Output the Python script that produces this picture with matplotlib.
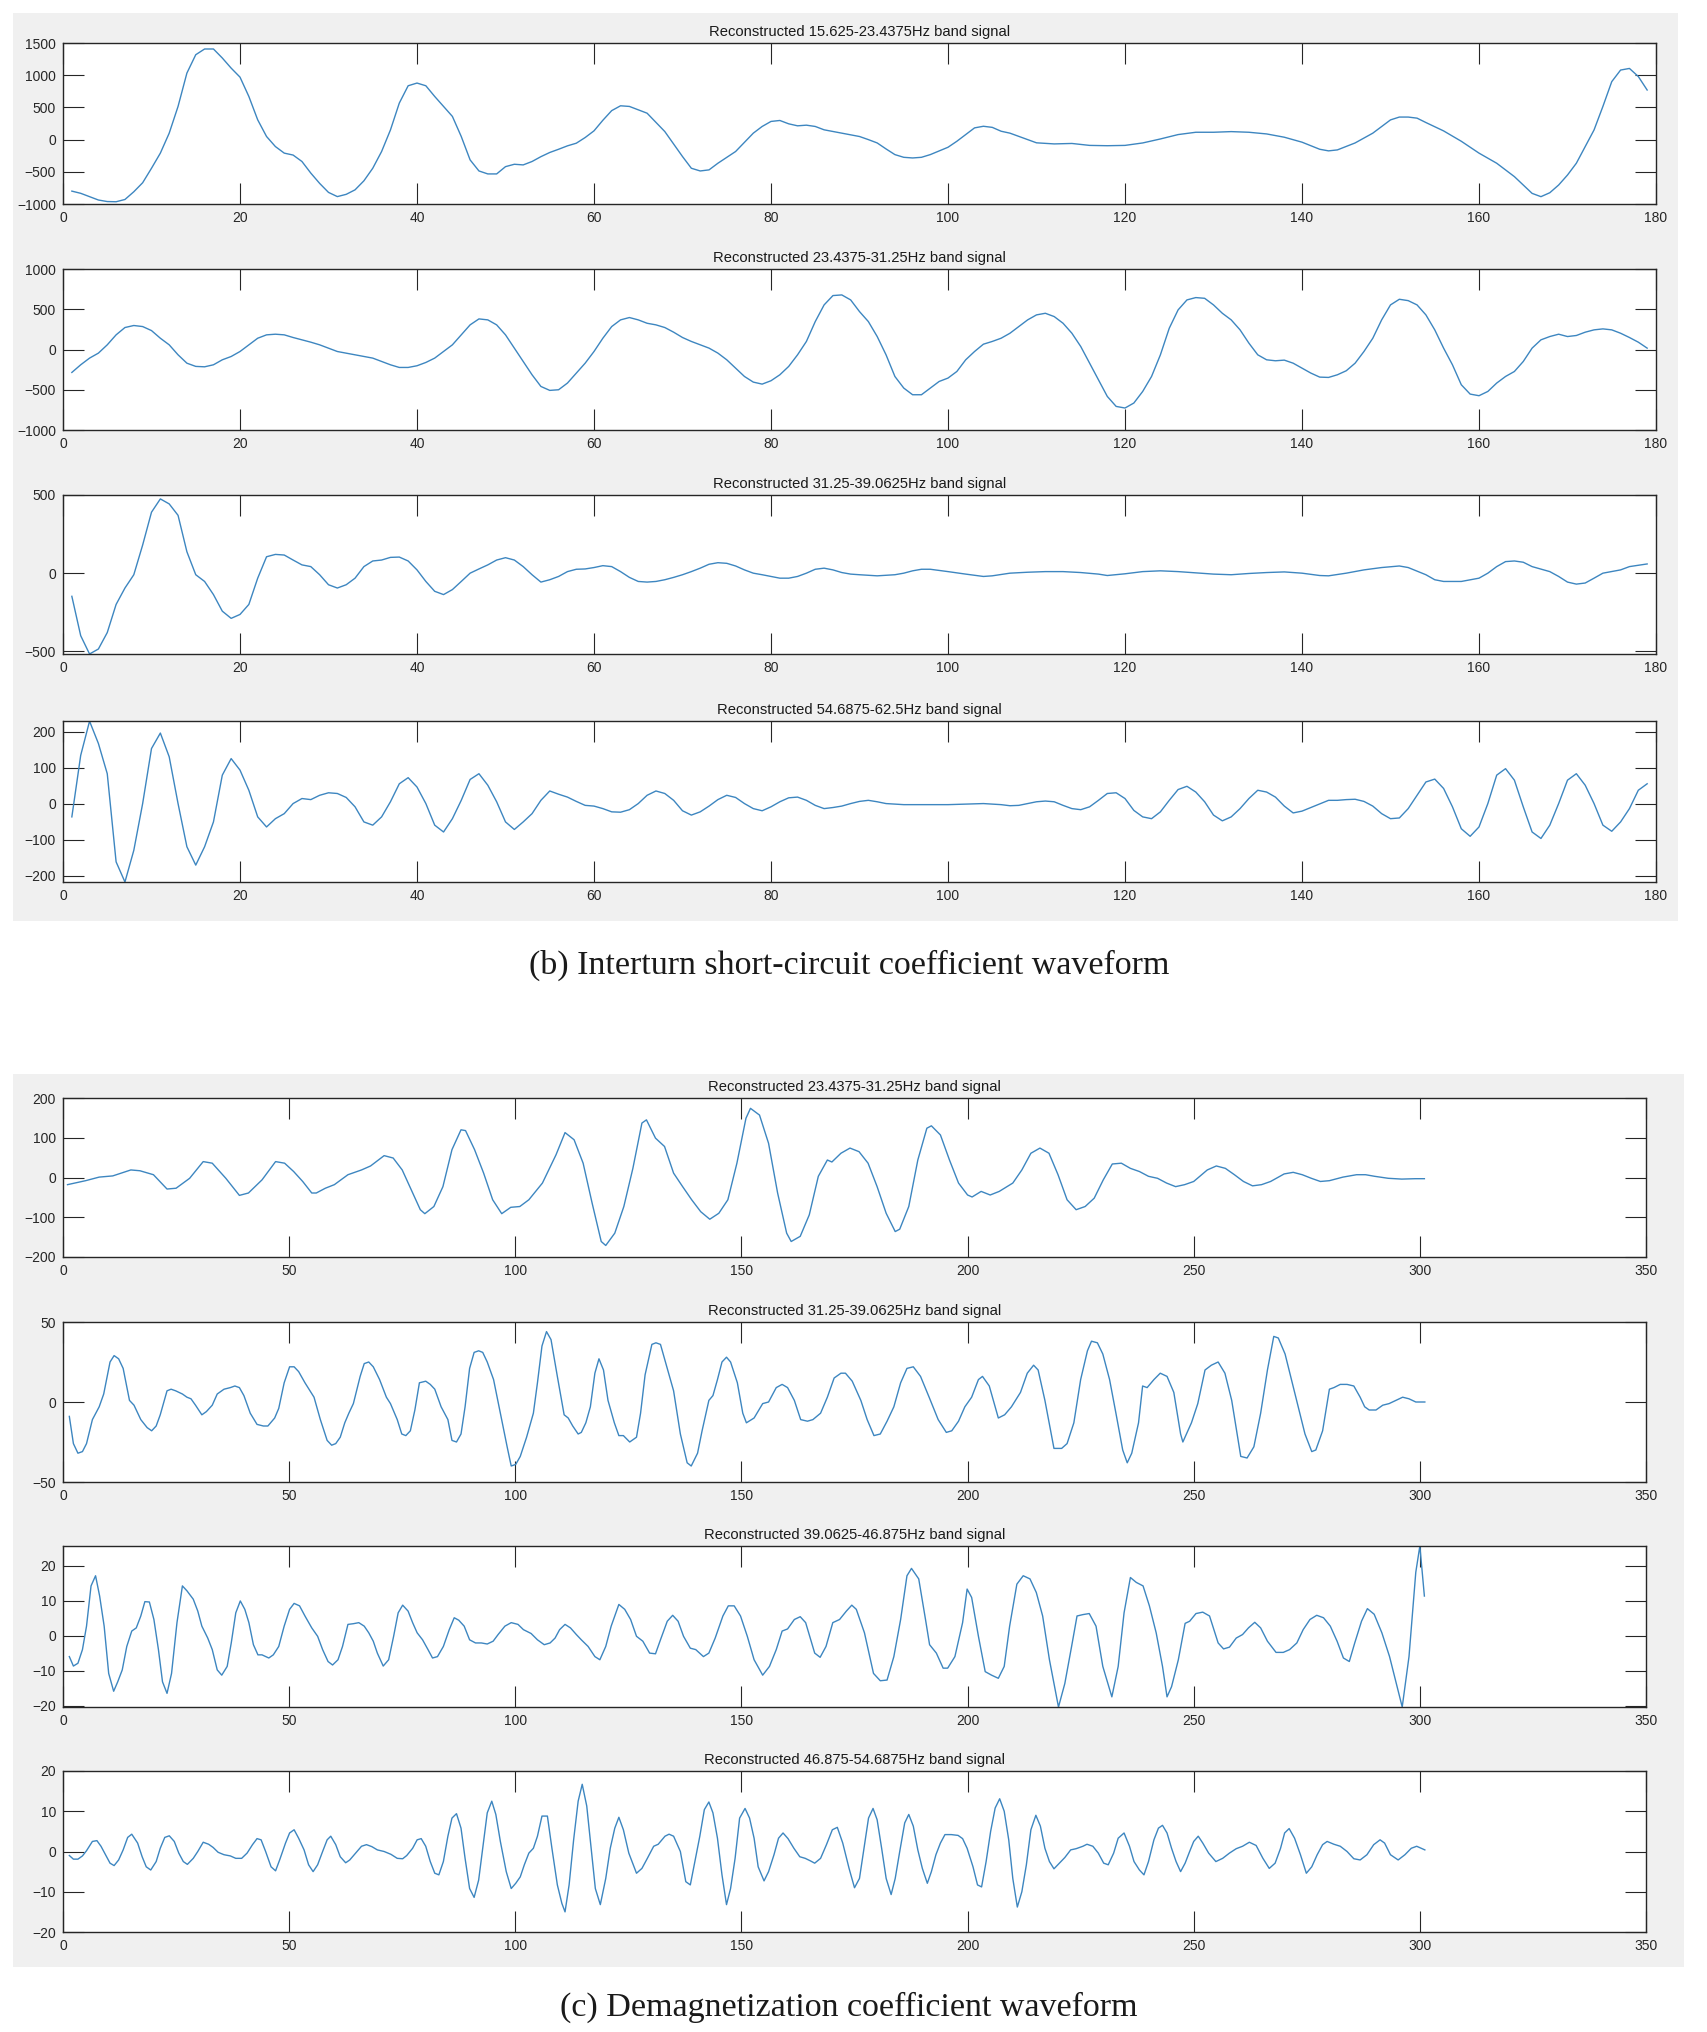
"""Reconstructed wavelet-band signals: interturn short-circuit and demagnetization."""

import matplotlib

matplotlib.use("Agg")
import matplotlib.pyplot as plt
from matplotlib.patches import Rectangle

FIG_W, FIG_H = 1708, 2032
LINE_COLOR = "#3d86c0"
AXIS_COLOR = "#262626"
PANEL_COLOR = "#f0f0f0"

# ---------------------------------------------------------------- (b) data
b_titles = [
    "Reconstructed 15.625-23.4375Hz band signal",
    "Reconstructed 23.4375-31.25Hz band signal",
    "Reconstructed 31.25-39.0625Hz band signal",
    "Reconstructed 54.6875-62.5Hz band signal",
]

b1_x = [1, 2, 3, 4, 5, 6, 7, 8, 9, 10, 11, 12, 13, 14, 15, 16, 17, 18, 19, 20,
        21, 22, 23, 24, 25, 26, 27, 28, 29, 30, 31, 32, 33, 34, 35, 36, 37, 38, 39, 40,
        41, 42, 43, 44, 45, 46, 47, 48, 49, 50, 51, 52, 53, 54, 55, 56, 57, 58, 59, 60,
        61, 62, 63, 64, 66, 68, 70, 71, 72, 73, 74, 76, 78, 79, 80,
        81, 82, 83, 84, 85, 86, 88, 90, 91, 92, 93, 94, 95, 96, 97, 98, 100,
        101, 102, 103, 104, 105, 106, 107, 108, 110, 112, 114, 116, 118, 120, 122, 124,
        126, 128, 130, 132, 134, 136, 138, 140,
        142, 143, 144, 146, 148, 150, 151, 152, 153, 154, 156, 158, 160, 162, 164, 165,
        166, 167, 168, 169, 170, 171, 172, 173, 174, 175, 176, 177, 178, 179]
b1_y = [-800, -834, -886, -938, -962, -965, -930, -810, -670, -445, -210, 100, 515, 1033, 1318, 1407, 1407, 1267, 1110, 970,
        670, 307, 48, -108, -210, -240, -340, -520, -680, -820, -885, -850, -780, -640, -445, -185, 150, 567, 836, 878,
        836, 670, 515, 360, 48, -315, -487, -533, -533, -420, -383, -393, -340, -265, -200, -150, -97, -56, 32, 136,
        300, 450, 525, 515, 410, 125, -263, -445, -487, -470, -367, -185, 100, 204, 282,
        297, 245, 214, 224, 204, 152, 100, 48, 0, -52, -145, -233, -275, -285, -275, -233, -119,
        -26, 78, 182, 207, 190, 130, 100, 50, -50, -67, -60, -90, -95, -90, -52, 10,
        78, 114, 114, 124, 114, 88, 37, -40,
        -150, -175, -160, -52, 100, 306, 350, 350, 333, 265, 135, -26, -210, -367, -575, -705,
        -835, -886, -825, -705, -550, -367, -108, 150, 515, 900, 1080, 1105, 980, 770]

b2_x = list(range(1, 180))
b2_y = [-285, -190, -107, -45, 58, 182, 273, 298, 285, 235, 140, 58, -66, -170, -210, -215, -190, -128, -87, -25,
        58, 140, 182, 190, 182, 149, 120, 91, 58, 17, -25, -45, -66, -87, -107, -149, -190, -223, -223, -202,
        -161, -107, -25, 58, 182, 306, 380, 368, 306, 182, 17, -149, -314, -459, -508, -500, -417, -293, -170, -25,
        140, 285, 368, 397, 368, 326, 306, 273, 215, 149, 100, 58, 17, -45, -128, -231, -335, -405, -430, -388,
        -314, -210, -66, 100, 347, 554, 670, 678, 616, 471, 347, 161, -66, -335, -479, -562, -562, -479, -397, -355,
        -273, -128, -25, 66, 100, 140, 202, 285, 368, 430, 450, 409, 326, 202, 37, -170, -376, -583, -707, -727,
        -665, -521, -335, -66, 264, 492, 616, 645, 636, 554, 450, 368, 244, 79, -66, -128, -140, -132, -170, -231,
        -293, -343, -347, -314, -264, -170, -25, 140, 368, 554, 624, 607, 554, 430, 244, 17, -190, -438, -554, -574,
        -521, -417, -335, -273, -149, 17, 120, 161, 190, 161, 174, 215, 244, 256, 244, 202, 149, 91, 17]

b3_x = [1, 2, 3, 4, 5, 6, 7, 8, 9, 10, 11, 12, 13, 14, 15, 16, 17, 18, 19, 20,
        21, 22, 23, 24, 25, 26, 27, 28, 29, 30, 31, 32, 33, 34, 35, 36, 37, 38, 39, 40,
        41, 42, 43, 44, 45, 46, 47, 48, 49, 50, 51, 52, 53, 54, 55, 56, 57, 58, 59, 60,
        61, 62, 63, 64, 65, 66, 67, 68, 69, 70, 71, 72, 73, 74, 75, 76, 77, 78, 79, 80,
        81, 82, 83, 84, 85, 86, 87, 88, 89, 90, 92, 94, 95, 96, 97, 98, 100, 102, 104, 105,
        107, 109, 111, 113, 115, 117, 118, 120, 122, 124, 126, 128, 130, 132, 134, 136, 138, 140,
        142, 143, 145, 147, 149, 151, 152, 154, 155, 156, 158, 160, 161, 162, 163, 164, 165, 166,
        168, 169, 170, 171, 172, 173, 174, 176, 177, 179]
b3_y = [-148, -400, -517, -485, -380, -200, -95, -10, 180, 390, 475, 443, 370, 137, -10, -53, -137, -243, -289, -264,
        -200, -32, 105, 120, 116, 84, 53, 42, -10, -74, -95, -74, -32, 42, 78, 84, 101, 103, 78, 21,
        -53, -116, -137, -105, -53, 0, 27, 53, 84, 99, 84, 42, -10, -57, -42, -21, 10, 25, 27, 36,
        48, 42, 10, -27, -53, -57, -53, -42, -27, -10, 10, 32, 57, 67, 63, 46, 21, 0, -10, -21,
        -32, -32, -21, 0, 25, 32, 21, 4, -6, -10, -17, -10, 0, 15, 25, 25, 10, -6, -21, -17,
        0, 6, 10, 10, 4, -6, -15, -4, 10, 15, 10, 2, -6, -10, -2, 4, 8, 0,
        -15, -17, 0, 21, 36, 46, 36, -10, -42, -53, -53, -32, 0, 42, 74, 78, 70, 42,
        10, -21, -57, -70, -63, -32, 0, 21, 42, 59]

b4_x = list(range(1, 94)) + [95, 100, 104, 106, 107, 108] + list(range(110, 180))
b4_y = [-36, 135, 230, 168, 84, -161, -217, -129, 1, 154, 197, 131, 1, -119, -170, -119, -50, 80, 126, 94,
        38, -36, -64, -41, -27, 1, 15, 12, 24, 31, 29, 18, -8, -50, -59, -36, 6, 56, 73, 47,
        1, -59, -78, -41, 10, 68, 84, 52, 6, -50, -71, -50, -27, 10, 36, 27, 19, 7, -4, -6,
        -13, -22, -23, -16, 1, 24, 36, 29, 10, -19, -31, -22, -6, 12, 24, 18, 1, -13, -19, -8,
        6, 17, 19, 10, -4, -13, -10, -6, 1, 7, 10, 6, 1,
        -2, -2, 1, -2, -5, -4,
        6, 8, 6, -4, -13, -16, -8, 10, 29, 31, 15, -18, -36, -41, -22, 10, 40, 49, 33, 6, -31,
        -47, -36, -13, 15, 38, 33, 19, -6, -25, -20, -10, 0, 10, 10, 12, 13, 7, -6, -27, -41,
        -39, -13, 24, 61, 69, 43, -8, -69, -90, -64, 1, 80, 98, 66, -8, -78, -96, -59, 1, 66,
        84, 52, 1, -59, -76, -50, -13, 38, 56]

b_xlim = (0, 180)
b_xticks = list(range(0, 181, 20))
b_ylims = [(-1000, 1500), (-1000, 1000), (-517, 500), (-217, 230.5)]
b_yticks = [
    [-1000, -500, 0, 500, 1000, 1500],
    [-1000, -500, 0, 500, 1000],
    [-500, 0, 500],
    [-200, -100, 0, 100, 200],
]

# ---------------------------------------------------------------- (c) data
c_titles = [
    "Reconstructed 23.4375-31.25Hz band signal",
    "Reconstructed 31.25-39.0625Hz band signal",
    "Reconstructed 39.0625-46.875Hz band signal",
    "Reconstructed 46.875-54.6875Hz band signal",
]

c1_x = [1, 5, 8, 11, 15, 17, 20, 23, 25, 28, 31, 33, 36, 39, 41, 44, 47, 49, 51, 53,
        55, 56, 58, 60, 63, 66, 68, 71, 73, 75, 77, 79, 80, 82, 84, 86, 88, 89, 91, 93,
        95, 97, 99, 101, 103, 106, 109, 111, 113, 115, 117, 119, 120, 122, 124, 126, 128, 129, 131, 133,
        135, 137, 139, 141, 143, 145, 147, 149, 151, 152, 154, 156, 158, 160, 161, 163, 165, 167, 169, 170,
        172, 174, 176, 178, 180, 182, 184, 185, 187, 189, 191, 192, 194, 196, 198, 200, 201, 203, 205, 207,
        210, 212, 214, 216, 218, 220, 222, 224, 226, 228, 230, 232, 234, 236, 238, 240, 242, 244, 246, 248,
        250, 253, 255, 257, 259, 261, 263, 265, 267, 270, 272, 274, 276, 278, 280, 283, 286, 288, 290, 293,
        296, 299, 301]
c1_y = [-18, -8, 1, 4, 19, 17, 7, -29, -27, -2, 40, 36, -2, -45, -39, -6, 40, 36, 15, -10,
        -39, -39, -27, -18, 7, 19, 29, 55, 49, 19, -31, -81, -91, -73, -23, 70, 120, 118, 70, 11,
        -56, -91, -75, -73, -56, -14, 57, 113, 95, 36, -65, -161, -171, -140, -73, 23, 137, 145, 99, 78,
        11, -23, -56, -86, -105, -90, -56, 36, 149, 174, 157, 86, -39, -140, -161, -148, -94, 3, 44, 39,
        61, 74, 65, 36, -23, -90, -136, -130, -73, 44, 124, 130, 107, 44, -14, -44, -49, -35, -44, -35,
        -14, 19, 61, 74, 61, 7, -56, -81, -73, -52, -6, 34, 36, 23, 15, 3, -2, -14, -23, -18,
        -10, 19, 29, 23, 7, -10, -21, -18, -10, 9, 13, 7, -2, -10, -8, 1, 7, 7, 3, -2,
        -4, -3, -3]

c2_x = [1.4, 2.3, 3.3, 4.3, 5.2, 6.5, 8.0, 9.0, 10.4, 11.3, 12.3, 13.3, 14.7, 15.7, 17.2, 18.6, 19.6, 20.6, 21.5, 23.0,
        23.9, 24.9, 26.4, 27.4, 28.3, 29.3, 30.7, 31.7, 33.0, 34.1, 35.6, 37.0, 38.0, 39.0, 40.0, 41.4, 42.9, 44.3, 45.3, 46.8,
        47.7, 48.9, 50.1, 51.1, 52.1, 53.5, 55.5, 56.9, 58.4, 59.4, 60.3, 61.3, 62.3, 63.2, 64.2, 65.7, 66.6, 67.6, 68.6, 70.0,
        71.5, 72.4, 73.9, 74.9, 75.8, 76.8, 77.8, 78.8, 80.2, 81.2, 82.2, 83.6, 85.1, 86.0, 87.0, 88.0, 88.9, 89.9, 90.9, 91.9,
        92.8, 93.8, 95.2, 96.7, 98.2, 99.1, 100.1, 101.1, 102.5, 104.0, 104.9, 105.9, 106.9, 107.9, 109.3, 110.8, 111.7, 112.7, 113.9, 114.6,
        115.6, 116.6, 117.6, 118.5, 119.5, 120.5, 121.9, 122.9, 123.9, 125.3, 126.8, 127.7, 128.7, 130.2, 131.1, 132.1, 133.1, 135.0, 136.5, 138.0,
        138.9, 140.3, 141.3, 142.8, 143.7, 144.7, 145.7, 146.7, 147.6, 149.1, 150.3, 151.1, 152.8, 154.7, 156.0, 157.7, 159.0, 160.2, 161.7, 163.1,
        164.6, 165.8, 167.5, 169.0, 170.5, 172.0, 173.0, 174.5, 176.4, 177.8, 179.3, 180.7, 182.2, 183.7, 185.2, 186.6, 188.0, 189.6, 191.5, 193.5,
        195.3, 196.5, 198.0, 199.4, 200.9, 202.4, 203.3, 204.8, 206.8, 208.2, 209.7, 211.7, 213.2, 214.6, 215.6, 217.1, 219.1, 220.8, 222.0, 223.5,
        225.0, 226.5, 227.4, 228.7, 229.9, 231.4, 232.8, 234.3, 235.3, 236.3, 237.8, 238.7, 239.7, 241.2, 242.6, 244.1, 245.6, 247.1, 247.6, 249.5,
        250.9, 252.5, 253.9, 255.4, 256.9, 258.4, 260.4, 261.8, 263.3, 264.8, 266.3, 267.7, 268.7, 270.2, 271.7, 273.1, 274.6, 276.1, 277.0, 278.5,
        280.0, 281.0, 282.4, 283.9, 285.4, 286.8, 287.8, 288.8, 290.3, 291.8, 293.2, 294.7, 296.2, 297.6, 299.1, 301.1]
c2_y = [-9, -26, -32, -31, -26, -11, -3, 5, 25, 29, 27, 21, 1, -2, -11, -16, -18, -15, -8, 7,
        8, 7, 5, 3, 2, -2, -8, -6, -2, 5, 8, 9, 10, 9, 4, -7, -14, -15, -15, -10,
        -4, 12, 22, 22, 19, 12, 3, -11, -24, -27, -26, -22, -13, -7, -1, 16, 24, 25, 22, 14,
        3, -1, -11, -20, -21, -18, -5, 12, 13, 11, 8, -3, -11, -24, -25, -20, -3, 21, 31, 32,
        31, 25, 14, -7, -28, -40, -39, -34, -22, -7, 12, 35, 44, 39, 16, -8, -10, -15, -20, -19,
        -13, -3, 18, 27, 20, 1, -13, -21, -21, -25, -22, -7, 17, 36, 37, 36, 26, 7, -20, -38,
        -40, -32, -18, 1, 4, 14, 25, 28, 25, 12, -7, -13, -10, -1, 0, 9, 11, 9, 1, -11,
        -12, -11, -7, 3, 15, 18, 18, 13, 1, -11, -21, -20, -12, -3, 12, 21, 22, 16, 3, -11,
        -19, -18, -12, -3, 3, 14, 16, 10, -10, -8, -3, 6, 18, 23, 20, 1, -29, -29, -26, -13,
        14, 32, 38, 37, 30, 14, -7, -30, -38, -32, -13, 10, 9, 14, 18, 16, 6, -20, -25, -13,
        -1, 20, 23, 25, 18, 1, -34, -35, -28, -7, 20, 41, 40, 30, 13, -3, -20, -31, -30, -18,
        8, 9, 11, 11, 10, 3, -3, -5, -5, -2, -1, 1, 3, 2, 0, 0]

c3_x = [1.4, 2.3, 3.3, 4.3, 5.2, 6.2, 7.2, 8.1, 9.1, 10.1, 11.2, 12.1, 13.1, 14.1, 15.2, 16.2, 17.2, 18.1, 19.1, 20.1,
        21.1, 22.0, 23.0, 24.0, 25.2, 26.4, 27.4, 28.8, 29.8, 30.7, 32.0, 33.0, 34.1, 35.1, 36.3, 37.2, 38.2, 39.2, 40.2, 41.1,
        42.1, 43.1, 44.0, 45.5, 46.5, 47.7, 48.9, 50.1, 51.1, 52.3, 53.5, 55.0, 56.3, 57.4, 58.6, 59.6, 60.8, 61.8, 63.0, 64.2,
        65.4, 66.6, 67.6, 68.6, 69.5, 70.8, 72.0, 73.1, 74.1, 75.1, 76.3, 77.3, 78.3, 79.5, 80.7, 81.7, 82.8, 84.1, 85.4, 86.5,
        87.5, 88.7, 89.9, 91.2, 92.5, 93.8, 95.1, 96.2, 97.7, 99.1, 100.6, 101.8, 103.5, 104.9, 106.4, 107.7, 108.8, 109.8, 111.0, 112.2,
        113.5, 114.6, 116.1, 117.6, 118.7, 120.0, 121.2, 122.9, 124.2, 125.5, 126.8, 128.2, 129.7, 131.0, 132.1, 133.6, 134.8, 136.0, 137.2, 138.7,
        139.9, 141.6, 142.8, 144.2, 145.9, 147.1, 148.4, 149.8, 151.3, 152.8, 154.7, 156.2, 157.7, 159.0, 160.2, 161.7, 163.0, 164.2, 166.2, 167.4,
        168.7, 170.2, 171.7, 173.2, 174.4, 175.4, 177.2, 179.2, 180.7, 182.2, 183.7, 185.2, 186.6, 187.6, 189.2, 190.7, 191.6, 193.1, 194.6, 195.6,
        197.2, 198.9, 199.9, 200.9, 202.4, 203.9, 205.3, 206.8, 208.1, 209.3, 210.9, 212.3, 213.8, 215.2, 216.6, 218.1, 220.1, 221.5, 223.0, 224.2,
        225.5, 226.9, 228.4, 229.9, 231.9, 233.3, 234.6, 236.0, 237.3, 238.8, 240.2, 241.7, 243.1, 244.1, 245.1, 246.6, 248.1, 249.1, 250.5, 252.0,
        253.5, 255.4, 256.6, 257.9, 259.4, 260.8, 262.1, 263.5, 264.8, 266.3, 268.2, 269.8, 271.2, 272.8, 274.2, 275.7, 277.2, 278.7, 280.2, 281.7,
        283.1, 284.4, 285.6, 287.1, 288.4, 289.9, 291.6, 293.3, 294.6, 296.1, 297.6, 299.1, 300.0, 301.0]
c3_y = [-6, -8.7, -7.9, -4, 2.7, 14.2, 17.1, 11.3, 2.7, -10.8, -15.9, -13.2, -9.8, -3.1, 1.3, 2.2, 5.6, 9.7, 9.6, 4.6,
        -4, -13.2, -16.5, -10.8, 3.7, 14.2, 12.8, 10.4, 7, 2.7, -0.7, -4, -9.8, -11.3, -8.8, -2.1, 6.5, 9.9, 7.5, 3.7,
        -2.6, -5.5, -5.5, -6.4, -5.5, -3.1, 2.7, 7.5, 9.2, 8.5, 5.6, 2.2, -0.2, -4, -7.4, -8.4, -6.9, -3.1, 3.2, 3.4,
        3.7, 2.7, 0.8, -1.6, -5, -8.7, -6.9, -0.2, 6.5, 8.7, 7, 3.7, 0.8, -1.2, -4, -6.4, -6, -3.1, 1.7, 5.1,
        4.4, 2.7, -1.2, -2.1, -2.1, -2.4, -1.6, 0.3, 2.7, 3.7, 3.2, 1.7, 0.6, -1.2, -2.6, -2.1, -0.7, 1.7, 3.2, 2.2,
        0.3, -1.2, -3.1, -6, -6.9, -3.1, 2.7, 8.9, 7.5, 4.6, -0.2, -1.6, -5, -5.2, -1.2, 4.1, 5.8, 4.1, -0.2, -3.6,
        -4, -6, -5, -0.7, 5.6, 8.5, 8.5, 5.6, -0.2, -6.9, -11.3, -8.8, -4, 1.3, 1.9, 4.6, 5.4, 3.7, -5, -6.2,
        -3.1, 3.7, 4.6, 7, 8.7, 7.5, 0.8, -10.8, -12.9, -12.7, -6, 4.6, 17.1, 19.2, 16.2, 4.6, -2.6, -5, -9.3, -9.3,
        -6, 3.7, 13.3, 10.9, -0.2, -10.3, -11.3, -12.2, -8.8, 2.7, 14.7, 17.1, 16.2, 12.3, 5.6, -6.9, -20.4, -13.7, -3.1, 5.6,
        6, 6.3, 2.7, -8.8, -17.5, -8.8, 6.5, 16.6, 15.2, 14.2, 8.5, 0.8, -8.8, -17.5, -14.6, -6.9, 3.5, 4.1, 6.3, 6.7,
        5.6, -2.1, -3.8, -3.3, -0.7, 0.3, 2.2, 3.8, 2.2, -1.6, -4.8, -4.8, -4, -2.1, 1.7, 4.6, 5.8, 5.1, 2.7, -1.6,
        -6.4, -7.4, -2.1, 4.1, 7.7, 6.1, 0.8, -6, -12.7, -20.4, -6, 18.1, 25.6, 11.3]

c4_x = [1.4, 2.3, 3.3, 4.3, 5.2, 6.5, 7.5, 8.4, 9.4, 10.4, 11.3, 12.3, 13.3, 14.3, 15.2, 16.5, 17.5, 18.4, 19.4, 20.6,
        21.5, 22.5, 23.5, 24.6, 25.6, 26.6, 27.5, 28.8, 29.8, 31.0, 32.2, 33.2, 34.3, 35.6, 37.0, 38.2, 39.5, 40.7, 41.9, 42.9,
        43.8, 44.8, 46.0, 47.0, 47.9, 49.2, 50.1, 51.1, 52.1, 53.3, 54.3, 55.3, 56.3, 57.4, 58.4, 59.2, 60.3, 61.3, 62.5, 63.4,
        64.7, 66.0, 67.1, 68.3, 69.5, 71.0, 72.5, 73.9, 75.1, 76.0, 77.3, 78.3, 79.2, 80.2, 81.2, 82.2, 83.1, 84.1, 85.1, 86.0,
        87.0, 88.0, 88.9, 89.9, 90.9, 91.9, 92.8, 93.8, 94.8, 95.7, 96.7, 98.0, 99.1, 100.1, 101.1, 102.0, 103.0, 104.0, 104.9, 105.9,
        107.1, 108.1, 109.3, 110.3, 111.0, 111.9, 112.9, 113.9, 114.8, 115.8, 116.8, 117.7, 118.8, 120.0, 121.0, 122.0, 122.9, 123.9, 125.1, 126.8,
        128.0, 129.2, 130.6, 131.6, 133.1, 134.0, 135.0, 136.5, 137.7, 138.7, 139.7, 140.8, 141.8, 142.8, 143.7, 144.7, 145.7, 146.7, 147.6, 148.6,
        149.6, 150.8, 151.8, 152.8, 153.7, 155.0, 156.0, 157.2, 158.2, 159.2, 160.3, 161.6, 162.9, 164.1, 165.2, 166.2, 167.5, 168.8, 170.1, 171.2,
        172.4, 173.8, 175.0, 176.1, 177.1, 178.1, 179.1, 180.0, 181.0, 182.0, 183.1, 184.0, 185.0, 186.1, 187.0, 188.0, 189.0, 190.0, 191.1, 192.0,
        193.0, 194.0, 195.0, 196.4, 197.9, 198.9, 199.9, 201.2, 202.2, 203.1, 204.1, 205.1, 206.1, 207.1, 208.1, 209.1, 210.0, 211.0, 212.0, 213.0,
        214.0, 215.1, 216.1, 217.1, 218.1, 219.1, 220.3, 221.5, 222.8, 224.0, 225.5, 226.4, 227.7, 228.9, 230.1, 231.1, 232.3, 233.3, 234.6, 235.8,
        236.8, 238.0, 239.0, 240.0, 241.2, 242.2, 243.1, 244.1, 245.1, 246.1, 247.1, 248.1, 249.1, 250.0, 251.0, 252.0, 253.3, 254.9, 256.4, 257.9,
        259.4, 260.8, 262.3, 263.8, 265.3, 266.7, 268.0, 269.2, 270.1, 271.1, 272.3, 273.6, 274.9, 276.1, 277.3, 278.5, 279.5, 281.0, 282.4, 283.9,
        285.4, 286.8, 288.3, 289.8, 291.2, 292.2, 293.5, 295.2, 296.7, 298.1, 299.3, 301.1]
c4_y = [-1, -1.9, -1.9, -1.1, 0.2, 2.5, 2.7, 1.3, -0.8, -2.9, -3.5, -2.1, 0.4, 3.5, 4.3, 2.1, -1.3, -3.8, -4.6, -2.5,
        0.8, 3.5, 3.9, 2.5, -0.4, -2.5, -3.2, -1.7, 0, 2.3, 1.8, 1, -0.2, -0.8, -1.1, -1.7, -1.7, -0.4, 1.7, 3.2,
        2.9, 0, -3.8, -4.8, -2.1, 2.1, 4.6, 5.4, 3.3, 0.4, -3.3, -5, -3.3, 0, 2.9, 3.8, 1.7, -1.3, -2.8, -2.1,
        -0.4, 1.3, 1.7, 1.2, 0.4, 0, -0.7, -1.7, -1.8, -1, 0.8, 2.9, 3.2, 1.3, -2.5, -5.4, -5.8, -2.5, 3.8, 8.3,
        9.4, 5.8, -1.7, -9.2, -11.4, -7.1, 0.8, 9.6, 12.5, 9.2, 2.5, -5, -9.2, -7.9, -6.3, -3.3, -0.4, 0.8, 3.8, 8.8,
        8.8, 0.8, -8.3, -12.9, -15, -8.3, 2.9, 12.5, 16.7, 11.3, 0.4, -9.2, -13.2, -6.7, 0.8, 5.8, 8.5, 5.4, -0.4, -5.4,
        -4.2, -1.7, 1.3, 1.8, 3.8, 4.3, 3.8, 0, -7.5, -8.3, -2.5, 3.8, 10.4, 12.3, 9.6, 3.3, -5.8, -13.2, -9.2, -1.7,
        8.3, 10.7, 8.3, 3.3, -3.8, -7.3, -5, -0.8, 3.3, 4.6, 3.2, 0.8, -1.3, -1.7, -2.3, -2.9, -1.7, 1.7, 5.4, 6,
        2.1, -4.2, -9, -6.7, 0.8, 8.3, 10.7, 7.9, 0.8, -6.7, -10.7, -6.7, 0, 7.1, 9.2, 6.3, 0.4, -4.2, -7.9, -5,
        -0.8, 2.1, 4.2, 4.2, 4, 3.2, 0.8, -3.8, -8.3, -8.8, -2.5, 5, 10.8, 13.1, 10, 2.9, -6.7, -13.8, -10, -3.3,
        5.4, 9, 6.3, 0.8, -2.5, -4.3, -2.9, -1.5, 0.4, 0.7, 1.3, 1.8, 1.3, -0.4, -2.9, -3.3, -0.4, 3.3, 4.6, 1.3,
        -2.5, -4.6, -5.8, -2.5, 2.9, 5.8, 6.5, 4.6, 0.8, -2.5, -5, -2.9, 0, 2.5, 3.8, 2.1, -0.4, -2.5, -1.7, -0.4,
        0.7, 1.3, 2.3, 1.5, -1.7, -4.2, -2.9, 0.8, 4.6, 5.7, 3.3, -0.8, -5.4, -3.8, -0.8, 1.7, 2.5, 1.8, 1.3, 0,
        -1.8, -2.1, -0.8, 1.7, 2.9, 2.1, -0.8, -2.1, -0.8, 0.8, 1.3, 0.4]

c_xlim = (0, 350)
c_xticks = list(range(0, 351, 50))
c_ylims = [(-200, 200), (-50, 50), (-20.4, 25.6), (-20, 20)]
c_yticks = [
    [-200, -100, 0, 100, 200],
    [-50, 0, 50],
    [-20, -10, 0, 10, 20],
    [-20, -10, 0, 10, 20],
]

captions = [
    "(b) Interturn short-circuit coefficient waveform",
    "(c) Demagnetization coefficient waveform",
]


def add_px_axes(fig, left, top, right, bottom):
    """Add axes given by pixel edges measured from the top-left corner."""
    return fig.add_axes([left / FIG_W, 1 - bottom / FIG_H,
                         (right - left) / FIG_W, (bottom - top) / FIG_H])


def style_matlab(ax, title, xlim, xticks, ylim, yticks):
    ax.set_xlim(*xlim)
    ax.set_ylim(*ylim)
    ax.set_xticks(xticks)
    ax.set_yticks(yticks)
    ax.set_title(title, fontsize=10.6, pad=5, color="#1a1a1a")
    ax.tick_params(direction="in", length=15, width=0.8, color=AXIS_COLOR,
                   top=True, right=True, labelsize=10, labelcolor="#262626", pad=5)
    for spine in ax.spines.values():
        spine.set_color(AXIS_COLOR)
        spine.set_linewidth(1.0)


plt.rcParams["font.family"] = ["Liberation Sans", "DejaVu Sans"]
fig = plt.figure(figsize=(FIG_W / 100, FIG_H / 100), dpi=100, facecolor="white")

# grey MATLAB figure backgrounds, kept behind the axes
for left, top, right, bottom in [(13, 13, 1678, 921), (13, 1074, 1684, 1967)]:
    fig.patches.append(Rectangle((left / FIG_W, 1 - bottom / FIG_H),
                                 (right - left) / FIG_W, (bottom - top) / FIG_H,
                                 transform=fig.transFigure, facecolor=PANEL_COLOR,
                                 edgecolor="none", zorder=-10))

b_series = [(b1_x, b1_y), (b2_x, b2_y), (b3_x, b3_y), (b4_x, b4_y)]
b_rows = [(43, 204), (269, 430), (495, 654), (721, 882)]
for (xs, ys), (top, bottom), title, ylim, yticks in zip(b_series, b_rows, b_titles, b_ylims, b_yticks):
    ax = add_px_axes(fig, 63, top, 1656, bottom)
    ax.plot(xs, ys, color=LINE_COLOR, linewidth=1.0)
    style_matlab(ax, title, b_xlim, b_xticks, ylim, yticks)

c_series = [(c1_x, c1_y), (c2_x, c2_y), (c3_x, c3_y), (c4_x, c4_y)]
c_rows = [(1098, 1257), (1322, 1482), (1546, 1707), (1771, 1932)]
for (xs, ys), (top, bottom), title, ylim, yticks in zip(c_series, c_rows, c_titles, c_ylims, c_yticks):
    ax = add_px_axes(fig, 63, top, 1646, bottom)
    ax.plot(xs, ys, color=LINE_COLOR, linewidth=1.0)
    style_matlab(ax, title, c_xlim, c_xticks, ylim, yticks)

for caption, y_px in zip(captions, [965, 2007]):
    fig.text(849 / FIG_W, 1 - y_px / FIG_H, caption, ha="center", va="center",
             fontsize=24.5, family=["Liberation Serif", "DejaVu Serif"], color="#1a1a1a")

fig.savefig("out.png", dpi=100, facecolor="white")
plt.close(fig)
